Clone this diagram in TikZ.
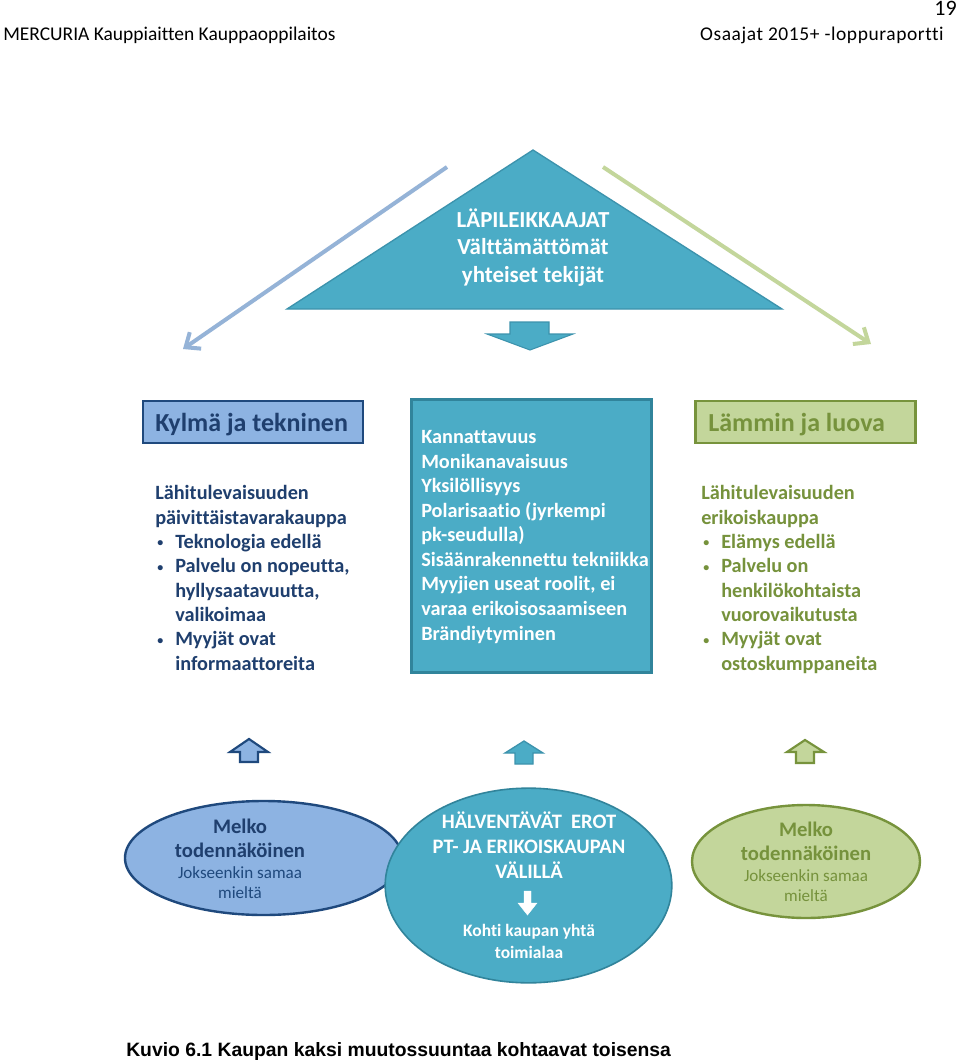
\documentclass[tikz,border=0pt]{standalone}
\usepackage{fontspec}
\setmainfont{Carlito}[Ligatures=NoCommon]
\newfontfamily\arialf{Liberation Sans}
\newfontfamily\hdrwide[LetterSpace=3,Ligatures=NoCommon]{Carlito}
\usetikzlibrary{arrows.meta,shapes.geometric}
\definecolor{cTeal}{HTML}{4BACC6}
\definecolor{cTealLine}{HTML}{3C93AD}
\definecolor{cTealBorder}{HTML}{31849B}
\definecolor{cBlueFill}{HTML}{8DB3E2}
\definecolor{cBlueArrow}{HTML}{95B3D7}
\definecolor{cNavy}{HTML}{1F497D}
\definecolor{cNavyText}{HTML}{1F3F6E}
\definecolor{cGreenFill}{HTML}{C3D69B}
\definecolor{cGreenArrow}{HTML}{C3D69B}
\definecolor{cGreenBorder}{HTML}{77933C}
\definecolor{cGreenText}{HTML}{76923C}
\newcommand\bul{\makebox[15pt][l]{\hspace{1.5pt}\raisebox{1.2pt}{\fontsize{9}{9}\selectfont\textbullet}}}
\newcommand\ind{\hspace*{15pt}}
\begin{document}
\begin{tikzpicture}[x=0.75pt,y=-0.75pt,
  hdr/.style={inner sep=0pt, font=\fontsize{14.6}{17}\selectfont},
  body/.style={inner sep=0pt, align=left, anchor=base west, font=\fontsize{15.2}{18.25}\selectfont\bfseries},
  title/.style={inner sep=0pt, anchor=base west, font=\fontsize{19.5}{23}\selectfont\bfseries},
  tritext/.style={inner sep=0pt, align=center, anchor=base, text=white, font=\fontsize{17.2}{20.6}\selectfont\bfseries},
  elbold/.style={inner sep=0pt, align=center, anchor=base, font=\fontsize{15.5}{18}\selectfont\bfseries},
  elreg/.style={inner sep=0pt, align=center, anchor=base, font=\fontsize{12.8}{15}\selectfont},
  cbold/.style={inner sep=0pt, align=center, anchor=base, text=white, font=\fontsize{15.4}{18.4}\selectfont\bfseries},
  csmall/.style={inner sep=0pt, align=center, anchor=base, text=white, font=\fontsize{13.1}{15.8}\selectfont\bfseries},
  bluebox/.style={draw=cNavy, fill=cBlueFill, line width=1.6pt, inner sep=0pt, rectangle},
  greenbox/.style={draw=cGreenBorder, fill=cGreenFill, line width=1.6pt, inner sep=0pt, rectangle},
  tealbox/.style={draw=cTealBorder, fill=cTeal, line width=1.6pt, inner sep=0pt, rectangle},
  blueell/.style={draw=cNavy, fill=cBlueFill, line width=1.8pt, ellipse, inner sep=0pt},
  tealell/.style={draw=cTealBorder, fill=cTeal, line width=1.2pt, ellipse, inner sep=0pt},
  greenell/.style={draw=cGreenBorder, fill=cGreenFill, line width=1.8pt, ellipse, inner sep=0pt},
  longarrow/.style={line width=3pt, -{Straight Barb[length=9pt,width=15pt,line width=3pt]}}
]
\useasboundingbox (0,0) rectangle (960,1060);
\fill[white] (0,0) rectangle (960,1060);

% header
\node[hdr, anchor=base west] (hl) at (3,40) {MERCURIA Kauppiaitten Kauppaoppilaitos};
\node[hdr, anchor=base east, font=\hdrwide\fontsize{14.6}{17}\selectfont] (hr) at (944,40) {Osaajat 2015+ -loppuraportti};
\node[hdr, anchor=base east, font=\fontsize{16.5}{18}\selectfont] (pg) at (957,16) {19};

% triangle
\coordinate (tA) at (533,150);
\coordinate (tL) at (287,309);
\coordinate (tR) at (782,309);
\filldraw[fill=cTeal, draw=cTealLine, line width=1pt] (tA) -- (tR) -- (tL) -- cycle;
\node[tritext] (tri) at (533,282) {LÄPILEIKKAAJAT\\Välttämättömät\\yhteiset tekijät};

% long arrows
\coordinate (la1) at (447,167);
\coordinate (la2) at (183,349);
\coordinate (ra1) at (603,167);
\coordinate (ra2) at (871,344);
\draw[longarrow, cBlueArrow] (la1) -- (la2);
\draw[longarrow, cGreenArrow] (ra1) -- (ra2);

% down block arrow under triangle
\filldraw[fill=cTeal, draw=cTealLine, line width=0.8pt]
  (510,322) -- (549,322) -- (549,334) -- (573,334) -- (530,350) -- (487,334) -- (510,334) -- cycle;

% left column
\node[bluebox, minimum width=165pt, minimum height=31.5pt] (kbox) at (253,422) {};
\node[title, text=cNavyText] (ktitle) at (155,431) {Kylmä ja tekninen};
\node[body, text=cNavyText] (ktext) at (155,670) {Lähitulevaisuuden\\
päivittäistavarakauppa\\
\bul Teknologia edellä\\
\bul Palvelu on nopeutta,\\
\ind hyllysaatavuutta,\\
\ind valikoimaa\\
\bul Myyjät ovat\\
\ind informaattoreita};

% center column
\node[tealbox, minimum width=180pt, minimum height=204.75pt] (cbox) at (531.5,536) {};
\node[body, text=white, font=\fontsize{15.2}{18.4}\selectfont\bfseries] (ctext) at (421,640) {Kannattavuus\\
Monikanavaisuus\\
Yksilöllisyys\\
Polarisaatio (jyrkempi\\
pk-seudulla)\\
Sisäänrakennettu tekniikka\\
Myyjien useat roolit, ei\\
varaa erikoisosaamiseen\\
Brändiytyminen};

% right column
\node[greenbox, minimum width=165pt, minimum height=31.5pt] (lbox) at (805.5,422) {};
\node[title, text=cGreenText] (ltitle) at (708,431) {Lämmin ja luova};
\node[body, text=cGreenText] (ltext) at (701,670) {Lähitulevaisuuden\\
erikoiskauppa\\
\bul Elämys edellä\\
\bul Palvelu on\\
\ind henkilökohtaista\\
\ind vuorovaikutusta\\
\bul Myyjät ovat\\
\ind ostoskumppaneita};

% small up arrows
\filldraw[fill=cBlueFill, draw=cNavy, line width=1.6pt]
  (249,739) -- (268,752) -- (258,752) -- (258,762) -- (240,762) -- (240,752) -- (230,752) -- cycle;
\filldraw[fill=cTeal, draw=cTealLine, line width=1pt]
  (524,741) -- (543,753) -- (533,753) -- (533,764) -- (515,764) -- (515,753) -- (505,753) -- cycle;
\filldraw[fill=cGreenFill, draw=cGreenBorder, line width=1.6pt]
  (805,740) -- (824,752) -- (814,752) -- (814,763) -- (796,763) -- (796,752) -- (787,752) -- cycle;

% ellipses
\node[blueell, minimum width=207.75pt, minimum height=85.5pt] (e1) at (263.5,858) {};
\node[elbold, text=cNavyText] (e1a) at (240,857) {Melko\\todennäköinen};
\node[elreg, text=cNavy] (e1b) at (240,898) {Jokseenkin samaa\\mieltä};

\node[tealell, minimum width=215pt, minimum height=146pt] (e2) at (528.5,885.5) {};
\node[cbold] (e2a) at (529,878) {HÄLVENTÄVÄT\ \ EROT\\PT- JA ERIKOISKAUPAN\\VÄLILLÄ};
\filldraw[fill=white, draw=white, line width=0.3pt]
  (524,891) -- (531,891) -- (531,903) -- (537,903) -- (527.5,915) -- (518,903) -- (524,903) -- cycle;
\node[csmall] (e2b) at (529,958) {Kohti kaupan yhtä\\toimialaa};

\node[greenell, minimum width=171pt, minimum height=84.75pt] (e3) at (806,861.5) {};
\node[elbold, text=cGreenText] (e3a) at (806,860) {Melko\\todennäköinen};
\node[elreg, text=cGreenText] (e3b) at (806,901) {Jokseenkin samaa\\mieltä};

% caption
\node[inner sep=0pt, anchor=base west, font=\arialf\fontsize{14.5}{17}\selectfont\bfseries] (cap) at (126,1056) {Kuvio 6.1 Kaupan kaksi muutossuuntaa kohtaavat toisensa};
\end{tikzpicture}
\end{document}
